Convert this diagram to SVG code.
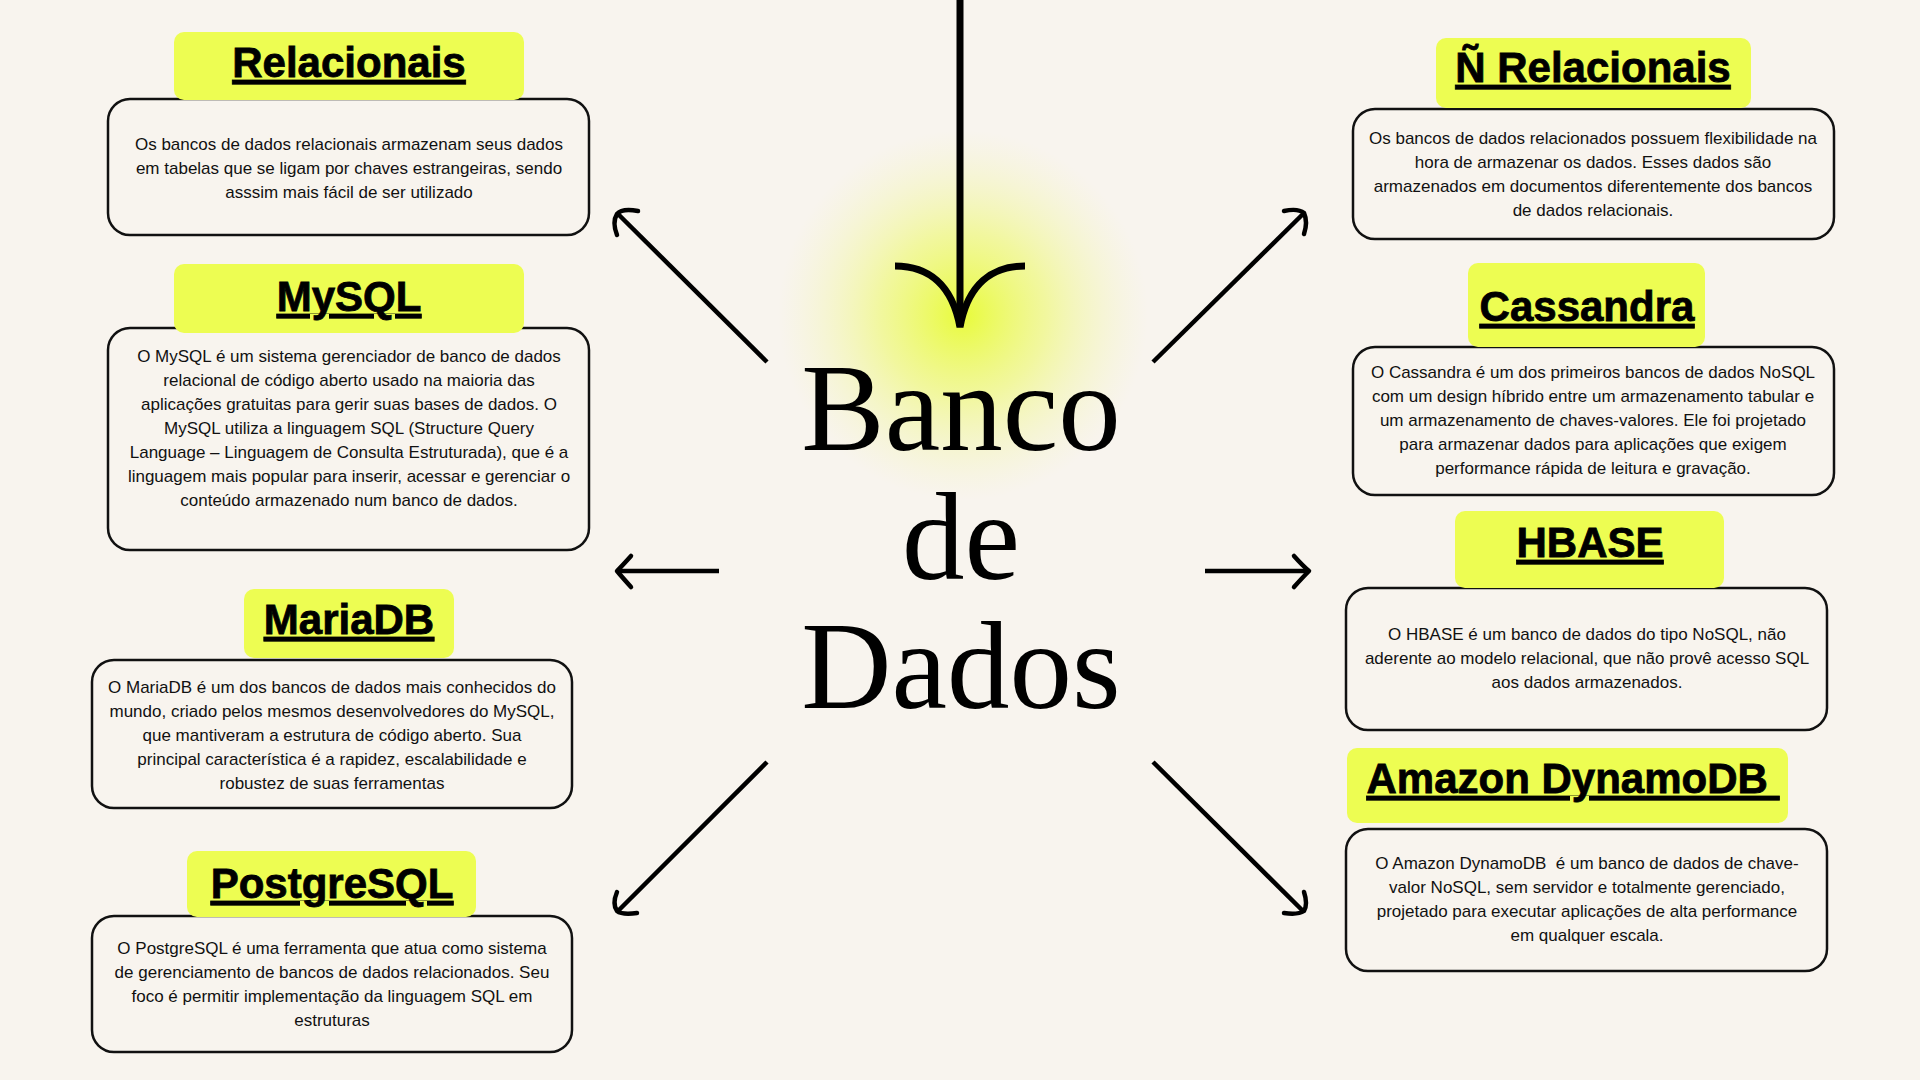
<svg xmlns="http://www.w3.org/2000/svg" width="1920" height="1080" viewBox="0 0 1920 1080">
<defs>
<radialGradient id="glow" cx="0.5" cy="0.5" r="0.5">
<stop offset="0" stop-color="#e8fb3a" stop-opacity="1"/>
<stop offset="0.45" stop-color="#edf96a" stop-opacity="0.6"/>
<stop offset="1" stop-color="#f3f6b0" stop-opacity="0"/>
</radialGradient>
<style>
.bg{fill:#f8f4ee}
.box{fill:#f8f4ee;stroke:#111;stroke-width:2.5}
.hdr{fill:#edfd52}
.ht{font-family:"Liberation Sans",Arial,sans-serif;font-weight:bold;font-size:42px;fill:#000;stroke:#000;stroke-width:0.8;text-anchor:middle;text-decoration:underline;text-decoration-thickness:4px}
.bt{font-family:"Liberation Sans",Arial,sans-serif;font-size:17px;fill:#111;text-anchor:middle}
.title{font-family:"Liberation Serif","Times New Roman",serif;font-size:125px;fill:#000;text-anchor:middle}
.ln{fill:none;stroke:#000;stroke-width:4.5;stroke-linecap:butt}
.hd{fill:none;stroke:#000;stroke-width:4.5;stroke-linecap:round;stroke-linejoin:round}
</style>
</defs>
<rect class="bg" x="0" y="0" width="1920" height="1080"/>
<circle cx="963" cy="315" r="185" fill="url(#glow)"/>

<g id="connectors">
<path d="M960 0 L960 326" fill="none" stroke="#000" stroke-width="7"/>
<path d="M895 266 C928 266 952 284 960 327 C968 284 992 266 1025 266" fill="none" stroke="#000" stroke-width="7"/>
<path class="ln" d="M767 362 L618 214"/>
<path class="hd" d="M638 211 Q622 208 617 214 Q612 222 617 235"/>
<path class="ln" d="M719 571 L618 571"/>
<path class="hd" d="M631 556 Q622 566 617 571 Q622 577 631 587"/>
<path class="ln" d="M767 762 L618 911"/>
<path class="hd" d="M617 892 Q612 904 617 911 Q622 915 637 913"/>
<path class="ln" d="M1153 362 L1303 214"/>
<path class="hd" d="M1284 211 Q1298 208 1304 213 Q1308 222 1304 234"/>
<path class="ln" d="M1205 571 L1308 571"/>
<path class="hd" d="M1294 556 Q1303 566 1309 571 Q1303 577 1294 587"/>
<path class="ln" d="M1153 762 L1303 911"/>
<path class="hd" d="M1304 892 Q1308 904 1304 911 Q1298 915 1284 913"/>
</g>

<g id="center">
<text class="title" x="961" y="450">Banco</text>
<text class="title" x="961" y="579">de</text>
<text class="title" x="961" y="708">Dados</text>
</g>

<g id="relacionais">
<rect class="box" x="108" y="99" width="481" height="136" rx="22"/>
<rect class="hdr" x="174" y="32" width="350" height="68" rx="10"/>
<text class="ht" x="349" y="77">Relacionais</text>
<text class="bt" x="349" y="150">Os bancos de dados relacionais armazenam seus dados</text>
<text class="bt" x="349" y="174">em tabelas que se ligam por chaves estrangeiras, sendo</text>
<text class="bt" x="349" y="198">asssim mais fácil de ser utilizado</text>
</g>

<g id="mysql">
<rect class="box" x="108" y="328" width="481" height="222" rx="22"/>
<rect class="hdr" x="174" y="264" width="350" height="69" rx="10"/>
<text class="ht" x="349" y="311">MySQL</text>
<text class="bt" x="349" y="362">O MySQL é um sistema gerenciador de banco de dados</text>
<text class="bt" x="349" y="386">relacional de código aberto usado na maioria das</text>
<text class="bt" x="349" y="410">aplicações gratuitas para gerir suas bases de dados. O</text>
<text class="bt" x="349" y="434">MySQL utiliza a linguagem SQL (Structure Query</text>
<text class="bt" x="349" y="458">Language – Linguagem de Consulta Estruturada), que é a</text>
<text class="bt" x="349" y="482">linguagem mais popular para inserir, acessar e gerenciar o</text>
<text class="bt" x="349" y="506">conteúdo armazenado num banco de dados.</text>
</g>

<g id="mariadb">
<rect class="box" x="92" y="660" width="480" height="148" rx="22"/>
<rect class="hdr" x="244" y="589" width="210" height="69" rx="10"/>
<text class="ht" x="349" y="634">MariaDB</text>
<text class="bt" x="332" y="693">O MariaDB é um dos bancos de dados mais conhecidos do</text>
<text class="bt" x="332" y="717">mundo, criado pelos mesmos desenvolvedores do MySQL,</text>
<text class="bt" x="332" y="741">que mantiveram a estrutura de código aberto. Sua</text>
<text class="bt" x="332" y="765">principal característica é a rapidez, escalabilidade e</text>
<text class="bt" x="332" y="789">robustez de suas ferramentas</text>
</g>

<g id="postgresql">
<rect class="box" x="92" y="916" width="480" height="136" rx="22"/>
<rect class="hdr" x="187" y="851" width="289" height="66" rx="10"/>
<text class="ht" x="332" y="898">PostgreSQL</text>
<text class="bt" x="332" y="954">O PostgreSQL é uma ferramenta que atua como sistema</text>
<text class="bt" x="332" y="978">de gerenciamento de bancos de dados relacionados. Seu</text>
<text class="bt" x="332" y="1002">foco é permitir implementação da linguagem SQL em</text>
<text class="bt" x="332" y="1026">estruturas</text>
</g>

<g id="nao-relacionais">
<rect class="box" x="1353" y="109" width="481" height="130" rx="22"/>
<rect class="hdr" x="1436" y="38" width="315" height="70" rx="10"/>
<text class="ht" x="1593" y="82">Ñ Relacionais</text>
<text class="bt" x="1593" y="144">Os bancos de dados relacionados possuem flexibilidade na</text>
<text class="bt" x="1593" y="168">hora de armazenar os dados. Esses dados são</text>
<text class="bt" x="1593" y="192">armazenados em documentos diferentemente dos bancos</text>
<text class="bt" x="1593" y="216">de dados relacionais.</text>
</g>

<g id="cassandra">
<rect class="box" x="1353" y="347" width="481" height="148" rx="22"/>
<rect class="hdr" x="1468" y="263" width="237" height="84" rx="10"/>
<text class="ht" x="1587" y="321">Cassandra</text>
<text class="bt" x="1593" y="378">O Cassandra é um dos primeiros bancos de dados NoSQL</text>
<text class="bt" x="1593" y="402">com um design híbrido entre um armazenamento tabular e</text>
<text class="bt" x="1593" y="426">um armazenamento de chaves-valores. Ele foi projetado</text>
<text class="bt" x="1593" y="450">para armazenar dados para aplicações que exigem</text>
<text class="bt" x="1593" y="474">performance rápida de leitura e gravação.</text>
</g>

<g id="hbase">
<rect class="box" x="1346" y="588" width="481" height="142" rx="22"/>
<rect class="hdr" x="1455" y="511" width="269" height="77" rx="10"/>
<text class="ht" x="1590" y="557">HBASE</text>
<text class="bt" x="1587" y="640">O HBASE é um banco de dados do tipo NoSQL, não</text>
<text class="bt" x="1587" y="664">aderente ao modelo relacional, que não provê acesso SQL</text>
<text class="bt" x="1587" y="688">aos dados armazenados.</text>
</g>

<g id="dynamodb">
<rect class="box" x="1346" y="829" width="481" height="142" rx="22"/>
<rect class="hdr" x="1347" y="748" width="441" height="75" rx="10"/>
<text class="ht" x="1573" y="793" xml:space="preserve">Amazon DynamoDB </text>
<text class="bt" x="1587" y="869" xml:space="preserve">O Amazon DynamoDB  é um banco de dados de chave-</text>
<text class="bt" x="1587" y="893">valor NoSQL, sem servidor e totalmente gerenciado,</text>
<text class="bt" x="1587" y="917">projetado para executar aplicações de alta performance</text>
<text class="bt" x="1587" y="941">em qualquer escala.</text>
</g>
</svg>
